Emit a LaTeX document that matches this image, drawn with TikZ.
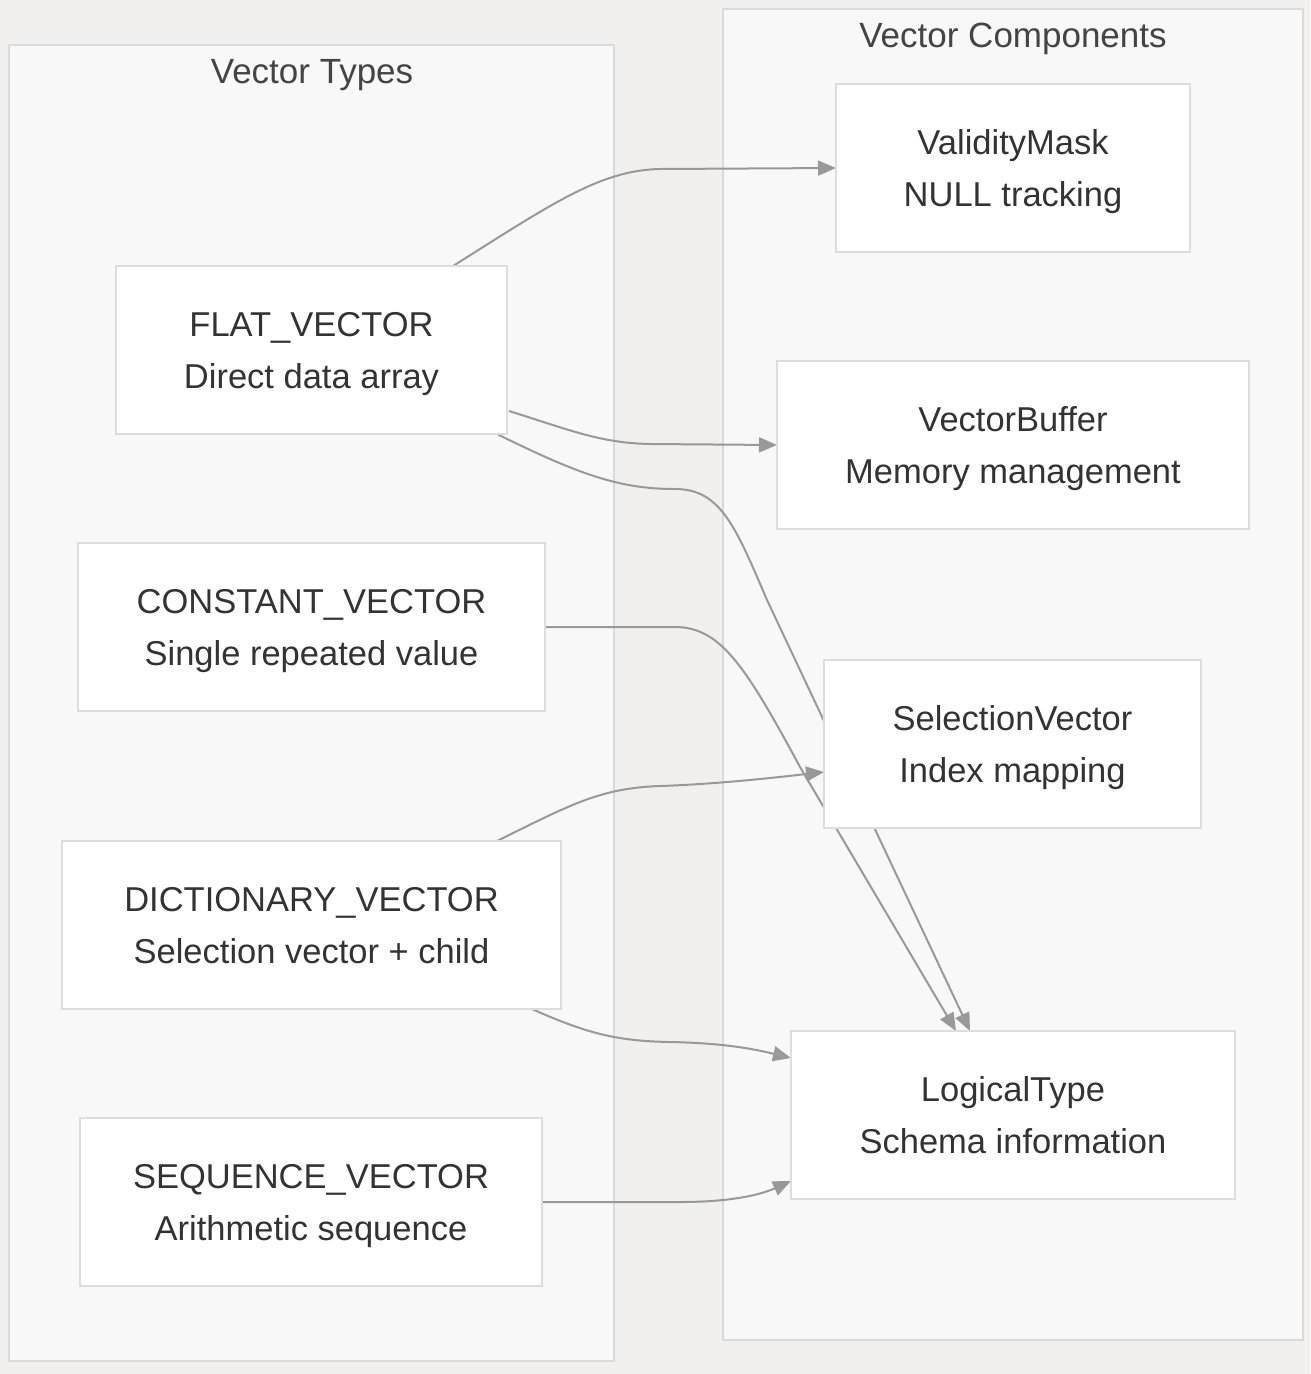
\documentclass[tikz,border=0pt]{standalone}
\usepackage{fontspec}
\setmainfont{Liberation Sans}
\usetikzlibrary{arrows.meta}
\definecolor{pagebg}{HTML}{F1F0EF}
\definecolor{clusterbg}{HTML}{F8F8F8}
\definecolor{clusterline}{HTML}{DADADA}
\definecolor{boxline}{HTML}{DDDDDD}
\definecolor{edgecol}{HTML}{999999}
\definecolor{txt}{HTML}{333333}
\definecolor{titletxt}{HTML}{444444}
\newcommand{\twoline}[2]{\rule{0pt}{34pt}#1\\#2\rule[-10pt]{0pt}{10pt}}
\tikzset{
  cluster/.style={fill=clusterbg, draw=clusterline, line width=2pt},
  ctitle/.style={text=titletxt, font=\fontsize{35}{40}\selectfont, anchor=center, inner sep=0pt},
  box/.style={rectangle, fill=white, draw=boxline, line width=2pt, text=txt,
    font=\fontsize{34.5}{52}\selectfont, align=center, inner sep=0pt},
  edge/.style={draw=edgecol, line width=2pt, -{Triangle[length=18pt,width=15pt]}},
}
\begin{document}
\begin{tikzpicture}[x=1pt,y=-1pt]
\useasboundingbox (0,0) rectangle (1310,1374);
\fill[pagebg] (0,0) rectangle (1310,1374);
% clusters
\draw[cluster] (9,45) rectangle (614,1361);
\draw[cluster] (723,9) rectangle (1303,1340);
\node[ctitle] (tleft) at (312,75) {Vector Types};
\node[ctitle] (tright) at (1013,39) {Vector Components};

% edges first (nodes drawn on top)
\coordinate (flatA) at (453,266);
\coordinate (flatB) at (509,411);
\coordinate (flatC) at (497,434);
\coordinate (constA) at (545,627);
\coordinate (dictA) at (497,841);
\coordinate (dictB) at (532,1009);
\coordinate (seqA) at (542,1202);
\coordinate (valE) at (836,168);
\coordinate (bufE) at (777,445);
\coordinate (logE1) at (970,1031);
\coordinate (logE2) at (956,1031);
\coordinate (selE) at (824,772);
\coordinate (logE3) at (791,1058);
\coordinate (logE4) at (791,1181);

\draw[edge] (flatA) .. controls (550,205) and (600,170) .. (660,169) -- (valE);
\draw[edge] (flatB) .. controls (570,430) and (600,443) .. (650,444) -- (bufE);
\draw[edge] (flatC) .. controls (580,475) and (620,489) .. (675,489)
   .. controls (720,489) and (735,525) .. (767,600) -- (logE1);
\draw[edge] (constA) -- (675,627) .. controls (720,627) and (745,665) .. (800,767) -- (logE2);
\draw[edge] (dictA) .. controls (570,805) and (600,788) .. (660,786)
   .. controls (720,784) and (780,777) .. (selE);
\draw[edge] (dictB) .. controls (590,1035) and (620,1041) .. (670,1042)
   .. controls (720,1043) and (750,1048) .. (logE3);
\draw[edge] (seqA) -- (680,1202) .. controls (730,1202) and (760,1195) .. (logE4);

% nodes
\node[box, minimum width=391pt, minimum height=168pt] (flat) at (311.5,350) {\twoline{FLAT\_VECTOR}{Direct data array}};
\node[box, minimum width=467pt, minimum height=168pt] (const) at (311.5,627) {\twoline{CONSTANT\_VECTOR}{Single repeated value}};
\node[box, minimum width=499pt, minimum height=168pt] (dict) at (311.5,925) {\twoline{DICTIONARY\_VECTOR}{Selection vector + child}};
\node[box, minimum width=462pt, minimum height=168pt] (seq) at (311,1202) {\twoline{SEQUENCE\_VECTOR}{Arithmetic sequence}};
\node[box, minimum width=354pt, minimum height=168pt] (valid) at (1013,168) {\twoline{ValidityMask}{NULL tracking}};
\node[box, minimum width=472pt, minimum height=168pt] (buf) at (1013,445) {\twoline{VectorBuffer}{Memory management}};
\node[box, minimum width=377pt, minimum height=168pt] (sel) at (1012.5,744) {\twoline{SelectionVector}{Index mapping}};
\node[box, minimum width=444pt, minimum height=168pt] (logic) at (1013,1115) {\twoline{LogicalType}{Schema information}};
\end{tikzpicture}
\end{document}
